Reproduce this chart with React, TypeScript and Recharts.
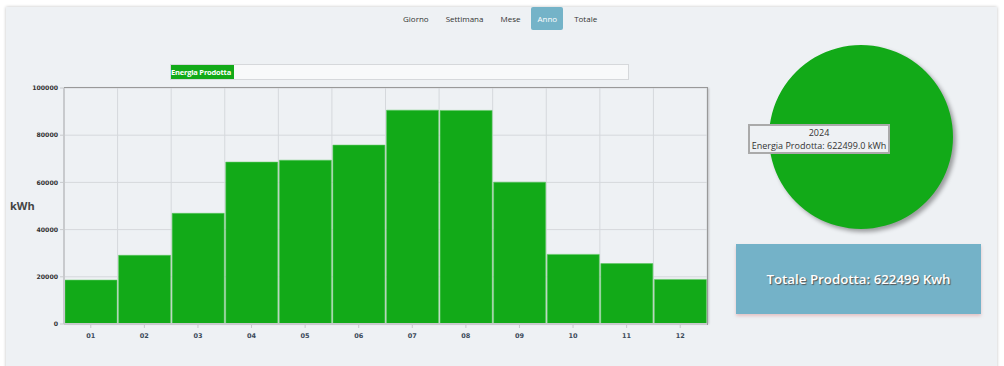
import React from 'react';
import { BarChart, Bar, XAxis, YAxis, CartesianGrid, PieChart, Pie, Cell } from 'recharts';

// mesi dell'anno e produzione mensile (kWh)
const months = ['01', '02', '03', '04', '05', '06', '07', '08', '09', '10', '11', '12'];
const energia = [18600, 29100, 46900, 68600, 69400, 75800, 90600, 90500, 60100, 29500, 25600, 18900];
const yTicks = [0, 20000, 40000, 60000, 80000, 100000];
const tabs = ['Giorno', 'Settimana', 'Mese', 'Anno', 'Totale'];
const activeTab = 'Anno';
const anno = '2024';
const totale = 622499;

const GREEN = '#12aa18';
const FONT = '"Open Sans", "DejaVu Sans", sans-serif';

const barData = months.map((m, i) => ({ mese: m, energia: energia[i] }));
const pieData = [{ name: anno, value: totale }];

const App = () => {
  return (
    <div style={{ position: 'absolute', left: 0, top: 0, width: 1004, height: 366, background: '#fff', overflow: 'hidden' }}>
      {/* pannello */}
      <div
        style={{
          position: 'absolute',
          left: 6,
          top: 7,
          width: 991,
          height: 370,
          background: '#eef1f4',
          boxShadow: '0 0 3px rgba(0,0,0,0.25)',
        }}
      />

      {/* tab */}
      <div
        style={{
          position: 'absolute',
          left: 397,
          top: 7,
          height: 23,
          display: 'flex',
          alignItems: 'center',
          fontFamily: FONT,
          fontSize: 8,
          color: '#333',
        }}
      >
        {tabs.map((t) => (
          <div
            key={t}
            style={{
              padding: '0 6px',
              height: 23,
              lineHeight: '23px',
              marginRight: 5,
              borderRadius: 2,
              background: t === activeTab ? '#74b3c8' : 'transparent',
              color: t === activeTab ? '#fff' : '#333',
            }}
          >
            {t}
          </div>
        ))}
      </div>

      {/* legenda */}
      <div
        style={{
          position: 'absolute',
          left: 170,
          top: 64,
          width: 457,
          height: 14,
          border: '1px solid #d6d8db',
          background: '#f8f9fa',
          display: 'flex',
          fontFamily: FONT,
        }}
      >
        <div
          style={{
            background: GREEN,
            color: '#fff',
            fontSize: 7.5,
            fontWeight: 700,
            lineHeight: '14px',
            width: 63,
            whiteSpace: 'nowrap',
            overflow: 'hidden',
            letterSpacing: -0.2,
          }}
        >
          Energia Prodotta
        </div>
      </div>

      {/* grafico a barre */}
      <div style={{ position: 'absolute', left: 0, top: 0 }}>
        <BarChart
          width={720}
          height={366}
          data={barData}
          margin={{ top: 88, right: 13, bottom: 22, left: 14 }}
          barCategoryGap={1}
        >
          <CartesianGrid
            stroke="#d5d8dc"
            verticalCoordinatesGenerator={({ offset }: any) =>
              months.map((_, i) => offset.left + ((i + 1) * offset.width) / months.length)
            }
          />
          <XAxis
            dataKey="mese"
            height={20}
            axisLine={{ stroke: '#c8cacd', strokeWidth: 2 }}
            tickLine={{ stroke: '#c8cacd' }}
            tickSize={4}
            tick={{ fontSize: 6.5, fill: '#3b4a5a', fontFamily: 'DejaVu Sans', fontWeight: 700 }}
            tickMargin={5}
          />
          <YAxis
            width={50}
            domain={[0, 100000]}
            ticks={yTicks}
            axisLine={{ stroke: '#c8cacd', strokeWidth: 2 }}
            tickLine={{ stroke: '#c8cacd' }}
            tickSize={4}
            tick={{ fontSize: 6.2, fill: '#333', fontFamily: 'DejaVu Sans', fontWeight: 700 }}
          />
          <Bar dataKey="energia" fill={GREEN} stroke="#5cc862" strokeWidth={0.6} isAnimationActive={false} />
        </BarChart>
      </div>

      {/* bordo superiore/destro dell'area del grafico */}
      <div
        style={{
          position: 'absolute',
          left: 64,
          top: 87,
          width: 643,
          height: 237,
          borderTop: '1.5px solid #999',
          borderRight: '1.5px solid #999',
          boxShadow: '2px 0 2px -1px rgba(0,0,0,0.2)',
          pointerEvents: 'none',
        }}
      />

      <div
        style={{
          position: 'absolute',
          left: 10,
          top: 198,
          fontFamily: FONT,
          fontSize: 11,
          fontWeight: 700,
          color: '#444',
        }}
      >
        kWh
      </div>

      {/* torta */}
      <div style={{ position: 'absolute', left: 761, top: 37, filter: 'drop-shadow(3px 3px 2px rgba(0,0,0,0.35))' }}>
        <PieChart width={200} height={200} margin={{ top: 0, right: 0, bottom: 0, left: 0 }}>
          <Pie
            data={pieData}
            dataKey="value"
            nameKey="name"
            cx={100}
            cy={100}
            outerRadius={92}
            startAngle={90}
            endAngle={-270}
            stroke="none"
            isAnimationActive={false}
          >
            {pieData.map((d) => (
              <Cell key={d.name} fill={GREEN} />
            ))}
          </Pie>
        </PieChart>
      </div>

      {/* tooltip fisso */}
      <div
        style={{
          position: 'absolute',
          left: 748,
          top: 124,
          width: 138,
          height: 26,
          border: '2px solid #aaa',
          background: '#eef1f4',
          fontFamily: FONT,
          fontSize: 9,
          color: '#333',
          textAlign: 'center',
          lineHeight: '13px',
        }}
      >
        <div>{anno}</div>
        <div style={{ whiteSpace: 'nowrap' }}>Energia Prodotta: {totale.toFixed(1)} kWh</div>
      </div>

      {/* totale */}
      <div
        style={{
          position: 'absolute',
          left: 736,
          top: 244,
          width: 245,
          height: 70,
          background: '#74b2c8',
          boxShadow: '0 2px 3px rgba(220,150,150,0.5)',
          display: 'flex',
          alignItems: 'center',
          justifyContent: 'center',
          fontFamily: FONT,
          fontSize: 13.3,
          fontWeight: 600,
          color: '#fff',
          textShadow: '1px 1px 1px #555',
        }}
      >
        Totale Prodotta: {totale} Kwh
      </div>
    </div>
  );
};

export default App;
